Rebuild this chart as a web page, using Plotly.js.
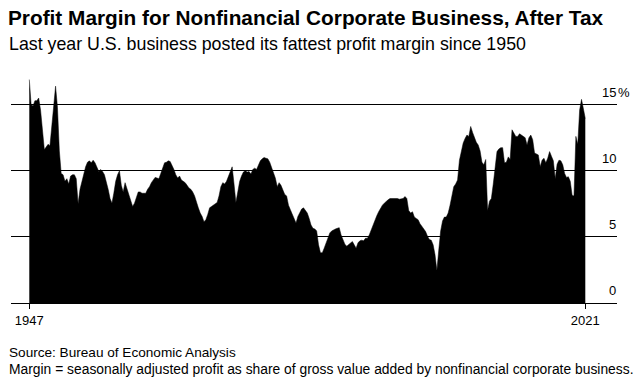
<!DOCTYPE html>
<html><head><meta charset="utf-8">
<script src="https://cdn.plot.ly/plotly-3.0.1.min.js"></script>
<style>html,body{margin:0;padding:0;background:#fff;}#chart{width:639px;height:389px;}</style>
</head><body><div id="chart"></div>
<script>
// Quarterly after-tax profit margin (%), nonfinancial corporate business, starting 1947 Q1
const startYear = 1947;
const profitMargin = [
  16.9, 15.0, 14.9, 15.3,   // 1947
  15.3, 15.5, 14.6, 13.0,   // 1948
  11.6, 11.8, 12.0, 11.9,   // 1949
  13.3, 15.0, 16.4, 14.8,   // 1950
  11.5, 9.8, 9.7, 9.2,      // 1951
  9.4, 9.0, 9.6, 9.7,       // 1952
  9.7, 9.4, 7.5, 8.6,       // 1953
  9.2, 9.7, 10.3, 10.65,    // 1954
  10.75, 10.6, 10.8, 10.6,  // 1955
  10.2, 9.95, 10.1, 9.95,   // 1956
  9.7, 9.2, 8.6, 7.9,       // 1957
  7.55, 8.3, 9.2, 9.7,      // 1958
  10.0, 8.9, 8.4, 9.1,      // 1959
  8.6, 8.1, 7.7, 7.3,       // 1960
  7.55, 7.9, 8.4, 8.4,      // 1961
  8.3, 8.3, 8.3, 8.6,       // 1962
  8.8, 9.1, 9.3, 9.5,       // 1963
  9.45, 9.4, 9.8, 10.3,     // 1964
  10.6, 10.65, 10.75, 10.7, // 1965
  10.45, 10.1, 9.7, 9.45,   // 1966
  9.6, 9.3, 9.2, 9.1,       // 1967
  8.9, 8.7, 8.6, 8.4,       // 1968
  8.1, 7.55, 7.2, 6.8,      // 1969
  6.55, 6.15, 6.3, 6.7,     // 1970
  7.2, 7.3, 7.4, 7.5,       // 1971
  7.6, 8.1, 8.8, 9.1,       // 1972
  9.0, 9.2, 9.6, 9.9,       // 1973
  10.3, 9.0, 7.6, 8.4,      // 1974
  9.2, 9.6, 9.9, 10.0,      // 1975
  9.9, 9.95, 9.75, 10.1,    // 1976
  10.2, 10.1, 10.45, 10.75, // 1977
  10.9, 11.0, 10.95, 10.9,  // 1978
  10.65, 10.3, 9.95, 9.45,  // 1979
  8.8, 9.1, 8.9, 8.6,       // 1980
  8.2, 8.1, 7.4, 7.05,      // 1981
  6.7, 6.4, 6.05, 6.55,     // 1982
  6.9, 7.1, 7.2, 7.0,       // 1983
  6.8, 6.4, 5.9, 5.65,      // 1984
  5.6, 5.45, 4.4, 3.8,      // 1985
  3.8, 4.15, 4.5, 4.95,     // 1986
  5.3, 5.45, 5.55, 5.6,     // 1987
  5.65, 5.7, 5.15, 4.85,    // 1988
  4.45, 4.3, 4.4, 4.55,     // 1989
  4.65, 4.4, 4.15, 4.55,    // 1990
  4.7, 4.75, 4.7, 4.9,      // 1991
  4.9, 5.15, 5.55, 5.9,     // 1992
  6.3, 6.6, 6.9, 7.2,       // 1993
  7.4, 7.55, 7.7, 7.8,      // 1994
  7.9, 7.9, 7.95, 7.9,      // 1995
  7.9, 7.85, 7.85, 7.9,     // 1996
  8.05, 7.9, 7.0, 6.8,      // 1997
  6.9, 6.5, 6.4, 6.3,       // 1998
  6.0, 5.8, 5.6, 5.4,       // 1999
  5.05, 4.8, 4.75, 4.4,     // 2000
  3.65, 2.45, 4.0, 5.45,    // 2001
  6.2, 6.5, 6.5, 6.8,       // 2002
  7.4, 8.1, 8.8, 9.0,       // 2003
  9.3, 10.8, 11.6, 12.1,    // 2004
  12.45, 12.7, 12.6, 13.35, // 2005
  12.9, 12.45, 12.15, 11.95,// 2006
  11.5, 10.65, 10.45, 10.85,// 2007
  7.0, 7.7, 7.9, 9.0,       // 2008
  10.4, 11.45, 11.65, 11.75,// 2009
  11.75, 10.6, 10.65, 11.05,// 2010
  10.85, 13.1, 12.85, 12.6, // 2011
  12.6, 12.8, 12.7, 12.6,   // 2012
  12.5, 11.95, 12.5, 12.7,  // 2013
  12.35, 11.35, 11.3, 11.2, // 2014
  10.3, 10.8, 10.95, 10.6,  // 2015
  10.95, 11.45, 11.1, 10.75,// 2016
  9.4, 10.5, 10.8, 10.75,   // 2017
  10.45, 9.8, 9.5, 9.55,    // 2018
  9.2, 8.15, 8.1, 12.6,     // 2019
  12.0, 14.6, 15.4, 14.5,   // 2020
  13.95                     // 2021
];
const xTickDates = ['1947-01-01', '2021-01-01'];
const xTickLabels = ['1947', '2021'];
const yTickVals = [0, 5, 10, 15];
const yTickLabels = ['0', '5', '10', '15'];
const titleText = 'Profit Margin for Nonfinancial Corporate Business, After Tax';
const subtitleText = 'Last year U.S. business posted its fattest profit margin since 1950';
const sourceText = 'Source: Bureau of Economic Analysis';
const noteText = 'Margin = seasonally adjusted profit as share of gross value added by nonfinancial corporate business.';

// ---- layout geometry ----
const W = 639, H = 389;
const plotL = 11, plotR = 617, plotT = 75, plotB = 303.3;
const dataLeftPx = 29.3, dataRightPx = 585.3;
const FONT = '"Liberation Sans", Arial, sans-serif';

const quarterDates = profitMargin.map((v, i) => {
  const y = startYear + Math.floor(i / 4);
  const m = (i % 4) * 3 + 1;
  return y + '-' + String(m).padStart(2, '0') + '-01';
});

const t0 = Date.parse(xTickDates[0] + 'T00:00:00Z');
const t1 = Date.parse(xTickDates[1] + 'T00:00:00Z');
const msPerPx = (t1 - t0) / (dataRightPx - dataLeftPx);
const fmt = ms => new Date(ms).toISOString().replace('T', ' ').slice(0, 19);
const xRange = [fmt(t0 - (dataLeftPx - plotL) * msPerPx), fmt(t1 + (plotR - dataRightPx) * msPerPx)];

const pxPerUnit = 66.2 / 5;
const yTop = (plotB - plotT) / pxPerUnit;

const px2x = px => (px - plotL) / (plotR - plotL);
const px2y = py => (plotB - py) / (plotB - plotT);

const trace = {
  x: quarterDates, y: profitMargin, type: 'scatter', mode: 'lines',
  fill: 'tozeroy', fillcolor: '#000', line: {color: '#000', width: 0.5},
  hoverinfo: 'skip'
};

const annotations = [];
yTickVals.forEach((v, i) => {
  annotations.push({xref: 'paper', yref: 'y', x: 1, y: v, xanchor: 'right', yanchor: 'middle',
    yshift: 12.5, xshift: 1, text: yTickLabels[i], showarrow: false,
    font: {family: FONT, size: 13, color: '#000'}});
});
annotations.push({xref: 'paper', yref: 'y', x: 1, y: yTickVals[yTickVals.length - 1], xanchor: 'left', yanchor: 'middle',
  yshift: 12.5, xshift: -1, text: '%', showarrow: false, font: {family: FONT, size: 13, color: '#000'}});
annotations.push({xref: 'paper', yref: 'paper', x: px2x(8), y: px2y(44), xanchor: 'left', yanchor: 'middle',
  xshift: -1, text: subtitleText, showarrow: false, font: {family: FONT, size: 17.8, color: '#000'}});
annotations.push({xref: 'paper', yref: 'paper', x: px2x(8), y: px2y(353), xanchor: 'left', yanchor: 'middle',
  xshift: -1, text: sourceText, showarrow: false, font: {family: FONT, size: 13.6, color: '#000'}});
annotations.push({xref: 'paper', yref: 'paper', x: px2x(8), y: px2y(369), xanchor: 'left', yanchor: 'middle',
  xshift: -1, text: noteText, showarrow: false, font: {family: FONT, size: 13.85, color: '#000'}});

const layout = {
  width: W, height: H,
  margin: {l: plotL, r: W - plotR, t: plotT, b: H - plotB, pad: 0},
  paper_bgcolor: '#fff', plot_bgcolor: '#fff',
  showlegend: false,
  title: {text: '<b>' + titleText + '</b>', font: {family: FONT, size: 20.8, color: '#000'},
    xref: 'container', yref: 'container', x: 8 / W, xanchor: 'left', y: 1 - 18 / H, yanchor: 'middle', pad: {l: 0, r: 0, t: 0, b: 0}},
  xaxis: {
    type: 'date', range: xRange, showgrid: false, zeroline: false,
    showline: true, linecolor: '#000', linewidth: 1,
    tickmode: 'array', tickvals: xTickDates, ticktext: xTickLabels,
    ticks: 'outside', ticklen: 5, tickwidth: 1, tickcolor: '#000',
    tickfont: {family: FONT, size: 13, color: '#000'}, fixedrange: true
  },
  yaxis: {
    range: [0, yTop], tickmode: 'array', tickvals: yTickVals.slice(1),
    showgrid: true, gridcolor: '#000', gridwidth: 1, zeroline: false,
    showticklabels: false, ticks: '', showline: false, fixedrange: true
  },
  annotations: annotations
};

Plotly.newPlot('chart', [trace], layout, {displayModeBar: false, staticPlot: true});
</script>
</body></html>
